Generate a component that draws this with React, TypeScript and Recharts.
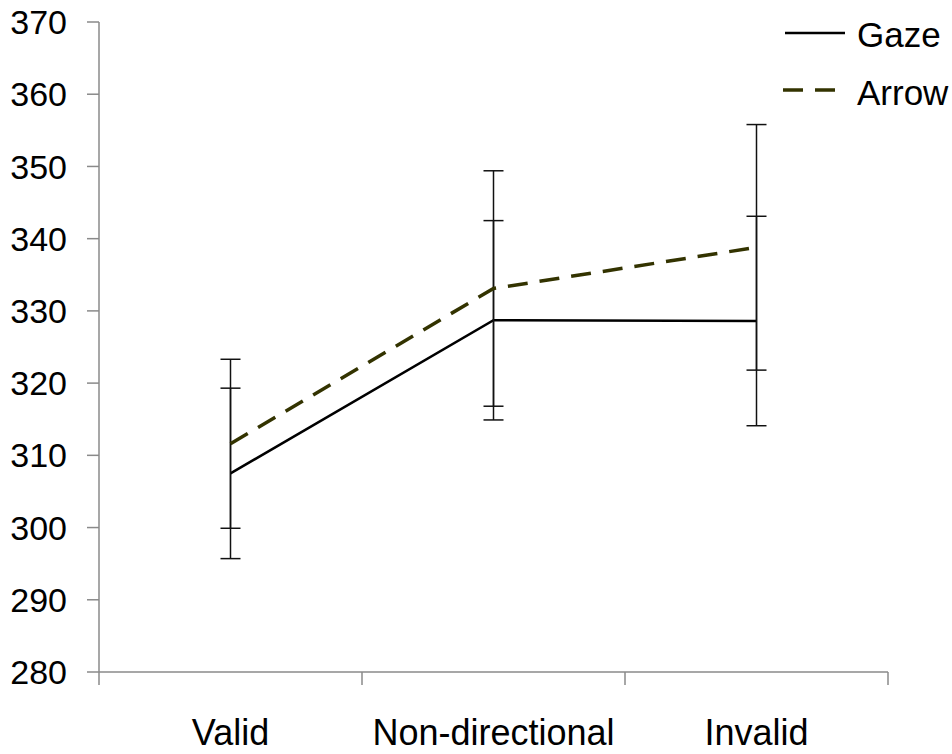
import React from 'react';
import { LineChart, Line, XAxis, YAxis, ErrorBar, Legend } from 'recharts';

const categories = ['Valid', 'Non-directional', 'Invalid'];
const gazeMeans = [307.5, 328.7, 328.6];
const gazeErrors = [11.8, 13.8, 14.5];
const arrowMeans = [311.6, 333.1, 338.8];
const arrowErrors = [11.7, 16.3, 17.0];
const yTicks = [280, 290, 300, 310, 320, 330, 340, 350, 360, 370];

const FONT = '"Liberation Sans", Arial, sans-serif';
const AXIS_GRAY = '#8a8a8a';
const ARROW_COLOR = '#333300';

// points sit in the middle of each category band, ticks on the band edges
const data = categories.map((name, i) => ({
  x: i + 0.5,
  name,
  gaze: gazeMeans[i],
  gazeErr: gazeErrors[i],
  arrow: arrowMeans[i],
  arrowErr: arrowErrors[i],
}));

const xTicks: number[] = [];
for (let i = 0; i <= categories.length * 2; i++) xTicks.push(i / 2);

const XTick = ({ x, y, payload }: any) => {
  const v = payload.value;
  if (Number.isInteger(v)) {
    return <line x1={x} y1={y} x2={x} y2={y + 13} stroke={AXIS_GRAY} strokeWidth={1.5} />;
  }
  return (
    <text x={x} y={y + 73} textAnchor="middle" fontSize={36} fontFamily={FONT} fill="#000">
      {categories[Math.floor(v)]}
    </text>
  );
};

const LegendContent = () => (
  <svg width={172} height={110}>
    <line x1={5} y1={23} x2={65} y2={23} stroke="#000" strokeWidth={2.5} />
    <text x={77} y={24} dominantBaseline="central" fontSize={35} fontFamily={FONT} fill="#000">
      Gaze
    </text>
    <line x1={3} y1={80} x2={65} y2={80} stroke={ARROW_COLOR} strokeWidth={3.5} strokeDasharray="20 12" />
    <text x={77} y={82} dominantBaseline="central" fontSize={35} fontFamily={FONT} fill="#000">
      Arrow
    </text>
  </svg>
);

export default function App() {
  return (
    <div style={{ position: 'absolute', left: 0, top: 0, background: '#fff' }}>
      <LineChart width={952} height={754} data={data} margin={{ top: 22, right: 64, bottom: 22, left: 0 }}>
        <XAxis
          type="number"
          dataKey="x"
          domain={[0, 3]}
          ticks={xTicks}
          interval={0}
          height={60}
          tickLine={false}
          tickSize={0}
          tickMargin={0}
          axisLine={{ stroke: AXIS_GRAY, strokeWidth: 1.5 }}
          tick={<XTick />}
        />
        <YAxis
          domain={[280, 370]}
          ticks={yTicks}
          interval={0}
          width={99}
          tickSize={12}
          tickMargin={20}
          axisLine={{ stroke: AXIS_GRAY, strokeWidth: 1.5 }}
          tickLine={{ stroke: AXIS_GRAY, strokeWidth: 1.5 }}
          tick={{ fontSize: 34, fill: '#000', fontFamily: FONT }}
        />
        <Legend
          layout="vertical"
          align="center"
          verticalAlign="middle"
          wrapperStyle={{ left: 780, top: 10, width: 172 }}
          content={<LegendContent />}
        />
        <Line
          type="linear"
          dataKey="gaze"
          stroke="#000"
          strokeWidth={2.5}
          dot={false}
          isAnimationActive={false}
        >
          <ErrorBar dataKey="gazeErr" width={10} stroke="#111" strokeWidth={1.5} isAnimationActive={false} />
        </Line>
        <Line
          type="linear"
          dataKey="arrow"
          stroke={ARROW_COLOR}
          strokeWidth={3.5}
          strokeDasharray="20 12"
          dot={false}
          isAnimationActive={false}
        >
          <ErrorBar dataKey="arrowErr" width={10} stroke="#111" strokeWidth={1.5} isAnimationActive={false} />
        </Line>
      </LineChart>
    </div>
  );
}
